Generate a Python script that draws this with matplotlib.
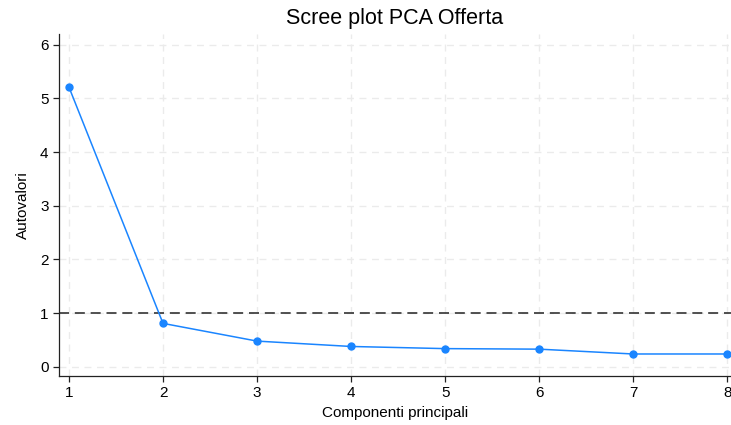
import matplotlib
matplotlib.use("Agg")
import matplotlib.pyplot as plt

components = [1, 2, 3, 4, 5, 6, 7, 8]
eigenvalues = [5.21, 0.81, 0.48, 0.38, 0.34, 0.33, 0.24, 0.24]
yticks = [0, 1, 2, 3, 4, 5, 6]
threshold = 1

plt.rcParams['font.family'] = ['Liberation Sans', 'DejaVu Sans']

fig = plt.figure(figsize=(7.31, 4.25), dpi=100)
ax = fig.add_axes([59/731, 49/425, 672/731, 342/425])

ax.plot(components, eigenvalues, color='#1a85ff', lw=1.1, marker='o', ms=5, zorder=3)
ax.axhline(threshold, color='#333333', lw=1.2, ls=(0, (6, 3.5)), zorder=2)

ax.set_xlim(0.894, 8.04)
ax.set_ylim(-0.17, 6.2)
ax.set_xticks(components)
ax.set_yticks(yticks)
ax.grid(True, color='#ebebeb', ls=(0, (5, 4)), lw=1)
ax.set_axisbelow(True)
for s in ['top', 'right']:
    ax.spines[s].set_visible(False)
for s in ['left', 'bottom']:
    ax.spines[s].set_color('#222222')
    ax.spines[s].set_linewidth(0.9)
ax.tick_params(labelsize=11, color='#222222', length=4, width=0.9)
ax.set_xlabel('Componenti principali', fontsize=11, labelpad=4)
ax.set_ylabel('Autovalori', fontsize=11, labelpad=7)
ax.set_title('Scree plot PCA Offerta', fontsize=15.5, pad=7)

fig.savefig('out.png', dpi=100)
